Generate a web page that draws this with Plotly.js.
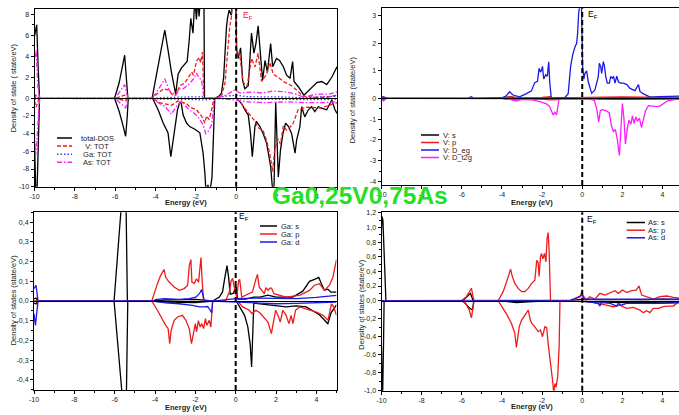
<!DOCTYPE html>
<html><head><meta charset="utf-8">
<script src="https://cdn.plot.ly/plotly-3.0.1.min.js"></script>
<style>html,body{margin:0;padding:0;background:#fff}#chart{width:679px;height:415px}</style>
</head><body><div id="chart"></div>
<script>
// ---------------- DATA ([energy eV, DOS states/eV]) ----------------
const EF = 0;
const energyTicks = [-10,-8,-6,-4,-2,0,2,4];
const energyTickText = ['-10','-8','-6','-4','-2','0','2','4'];

// Panel 1 : total DOS and atom totals
const totalUp = [[-10,5.9],[-9.95,6.5],[-9.89,7.0],[-9.82,3.0],[-9.75,0],[-6.03,0],[-5.8,1.5],[-5.53,4.1],[-5.45,2.0],[-5.37,0],[-4.17,0],[-4.0,1.8],[-3.8,3.8],[-3.54,6.5],[-3.38,4.6],[-3.21,2.5],[-3.0,0.4],[-2.88,2.3],[-2.71,2.9],[-2.55,3.3],[-2.43,3.5],[-2.33,5.5],[-2.25,7.6],[-2.14,6.2],[-2.05,9.5],[-1.97,7.5],[-1.9,9.5],[-1.84,7.8],[-1.75,10],[-1.64,10],[-1.6,10],[-1.57,0],[-1.06,0],[-0.85,0.2],[-0.73,0.5],[-0.62,2.0],[-0.56,4.2],[-0.48,6.8],[-0.43,7.6],[-0.35,8.4],[-0.24,7.9],[-0.15,10],[-0.02,10],[0.02,4.6],[0.1,3.8],[0.22,4.8],[0.32,1.7],[0.43,0.9],[0.6,1.2],[0.76,6.2],[0.88,4.3],[0.98,5.2],[1.09,6.9],[1.2,4.0],[1.31,1.7],[1.43,3.6],[1.55,2.5],[1.71,5.2],[1.81,3.0],[2.0,3.8],[2.15,3.6],[2.34,3.0],[2.5,2.2],[2.67,1.9],[2.8,3.5],[2.87,1.6],[3.08,1.1],[3.36,0.3],[3.66,0.9],[4.0,1.5],[4.24,1.6],[4.49,1.3],[4.74,2.0],[5.0,3.0]];
const totalDown = [[-10,-5.0],[-9.97,-8.0],[-9.93,-11],[-9.88,-11],[-9.82,-5],[-9.75,0],[-6.03,0],[-5.8,-1.5],[-5.62,-3.0],[-5.48,-4.3],[-5.4,-2.0],[-5.35,0],[-4.15,0],[-3.87,-1.3],[-3.62,-2.8],[-3.38,-3.9],[-3.24,-6.6],[-3.13,-4.7],[-3.0,-2.5],[-2.91,-1.3],[-2.79,-0.4],[-2.72,-0.6],[-2.63,-1.9],[-2.46,-2.8],[-2.3,-3.2],[-2.05,-3.5],[-1.8,-3.9],[-1.72,-5.1],[-1.64,-6.2],[-1.55,-8.5],[-1.5,-10.5],[-1.4,-9.8],[-1.3,-10.5],[-1.2,-9.0],[-1.12,-3.0],[-1.06,0],[0.02,0],[0.27,-0.6],[0.43,-1.3],[0.6,-1.9],[0.71,-4.0],[0.8,-6.6],[0.93,-3.2],[1.0,-2.6],[1.18,-3.2],[1.34,-4.0],[1.51,-5.1],[1.64,-7.0],[1.71,-7.7],[1.81,-10.5],[1.88,-9.8],[1.96,-0.4],[2.09,-8.9],[2.2,-5.8],[2.32,-4.0],[2.45,-2.8],[2.6,-3.2],[2.75,-4.0],[2.92,-6.2],[3.0,-4.7],[3.16,-3.2],[3.25,-0.95],[3.4,-2.1],[3.58,-1.3],[3.74,-0.95],[3.9,-1.5],[4.07,-0.95],[4.24,-1.1],[4.49,-1.3],[4.74,-0.2],[4.9,-1.3],[5.0,-1.7]];
const vTotUp = [[-10,0.1],[-9.95,0.3],[-9.85,0.1],[-9.75,0],[-6.0,0],[-5.53,0.3],[-5.37,0],[-4.17,0],[-3.87,0.5],[-3.6,0.9],[-3.38,0.8],[-3.13,0.3],[-3.0,0.3],[-2.79,1.2],[-2.6,1.4],[-2.46,1.7],[-2.3,2.2],[-2.21,2.5],[-2.12,2.2],[-1.97,3.5],[-1.84,3.9],[-1.76,3.4],[-1.67,4.4],[-1.6,0],[-1.06,0],[-0.73,0.2],[-0.55,1.5],[-0.4,5.5],[-0.32,6.8],[-0.24,7.7],[-0.15,10],[-0.02,10],[0.03,3.8],[0.15,4.5],[0.35,1.5],[0.55,1.2],[0.76,3.8],[0.93,3.0],[1.09,4.3],[1.26,1.6],[1.51,2.3],[1.67,3.4],[1.84,2.3],[2.08,2.0],[2.34,1.6],[2.75,1.2],[3.0,0.8],[3.33,0.2],[3.83,0.1],[4.5,0.1],[5.0,0.3]];
const vTotDown = [[-10,-0.3],[-9.92,-1.0],[-9.8,-0.2],[-9.75,0],[-6,0],[-5.5,-0.3],[-5.37,0],[-4.15,0],[-3.8,-0.5],[-3.2,-0.8],[-2.9,-0.3],[-2.46,-0.6],[-2.3,-1.0],[-1.97,-1.3],[-1.72,-2.0],[-1.55,-2.8],[-1.47,-2.0],[-1.34,-2.4],[-1.22,-1.3],[-1.1,0],[0.02,0],[0.2,-0.4],[0.35,-0.9],[0.6,-1.6],[0.93,-2.6],[1.09,-3.3],[1.34,-3.7],[1.51,-4.8],[1.67,-6.3],[1.81,-8.3],[1.9,-6.0],[2.0,-5.0],[2.09,-4.6],[2.2,-5.2],[2.34,-3.1],[2.5,-3.6],[2.8,-3.0],[3.07,-1.3],[3.5,-1.0],[4.2,-1.1],[4.6,-0.8],[5.0,-0.5]];
const gaTotUp = [[-10,0.05],[-9.9,0.15],[-9.75,0],[-6,0],[-5.5,0.05],[-5.37,0],[-4.17,0],[-3.5,0.08],[-2.5,0.1],[-1.7,0.15],[-1.6,0],[-1.06,0],[-0.5,0.2],[0,0.3],[0.5,0.15],[1.5,0.15],[2.5,0.12],[3.3,0.05],[4.2,0.15],[5,0.2]];
const gaTotDown = [[-10,-0.05],[-9.9,-0.15],[-9.75,0],[-6,0],[-5.5,-0.05],[-5.37,0],[-4.17,0],[-3.5,-0.08],[-2.5,-0.12],[-1.6,-0.18],[-1.1,-0.1],[-1.06,0],[0,-0.05],[1,-0.1],[2,-0.1],[3.5,-0.15],[4.5,-0.15],[5,-0.1]];
const asTotUp = [[-10,3.8],[-9.92,4.6],[-9.83,1.0],[-9.75,0],[-6.0,0],[-5.53,1.3],[-5.37,0],[-4.17,0],[-3.87,0.8],[-3.54,1.85],[-3.3,0.7],[-3.0,0.3],[-2.8,0.9],[-2.63,0.9],[-2.3,1.4],[-2.1,1.9],[-1.97,2.4],[-1.84,1.9],[-1.72,1.8],[-1.6,0],[-1.06,0],[-0.5,0.3],[-0.08,0.8],[0.2,0.5],[0.8,0.6],[1.3,0.5],[1.84,0.7],[2.5,0.6],[3.0,0.4],[3.33,0.1],[4.0,0.4],[4.6,0.4],[5.0,0.6]];
const asTotDown = [[-10,-4],[-9.95,-6.5],[-9.9,-5.5],[-9.8,-1.5],[-9.75,0],[-6.0,0],[-5.48,-1.1],[-5.37,0],[-4.17,0],[-3.87,-0.5],[-3.54,-0.9],[-3.21,-1.8],[-2.96,-0.9],[-2.71,-0.3],[-2.38,-1.2],[-2.13,-1.6],[-1.89,-2.1],[-1.64,-3.0],[-1.51,-4.0],[-1.4,-3.8],[-1.22,-3.0],[-1.12,-1.0],[-1.06,0],[0,-0.2],[0.5,-0.4],[1.5,-0.5],[2.5,-0.4],[3.5,-0.5],[4.2,-0.5],[5.0,-0.4]];

// Panel 2 : V orbitals
const vSUp = [[-10,0.02],[-9.9,0.04],[-9.75,0],[-4,0],[-3.6,0.05],[-3.2,0.01],[-1.5,0.01],[0,0.02],[2,0.02],[4,0.01],[4.85,0.01]];
const vSDown = [[-10,-0.02],[-9.9,-0.04],[-9.75,0],[-4,0],[-3.6,-0.04],[-3.0,-0.02],[-1.5,-0.01],[0,-0.01],[2,-0.02],[4.85,-0.01]];
const vPUp = [[-10,0],[-4,0],[-3.6,0.06],[-3.2,0.02],[-2,0.03],[-1.6,0.06],[-1.5,0.02],[-1.0,0],[-0.5,0.02],[0,0.03],[1,0.04],[2,0.05],[3,0.04],[4,0.03],[4.85,0.03]];
const vPDown = [[-10,0],[-4,0],[-3.6,-0.03],[-3,-0.02],[-2,-0.04],[-1.6,-0.08],[-1.2,-0.06],[-1.0,0],[0,-0.02],[1,-0.04],[2,-0.05],[3,-0.04],[4,-0.03],[4.85,-0.02]];
const vEgUp = [[-10,0.02],[-9.9,0.06],[-9.8,0.02],[-9.7,0],[-5.7,0],[-5.53,0.06],[-5.4,0],[-4.0,0.02],[-3.8,0.08],[-3.62,0.24],[-3.45,0.12],[-3.12,0.05],[-2.78,0.17],[-2.53,0.27],[-2.37,0.57],[-2.3,0.6],[-2.23,0.62],[-2.15,1.09],[-2.08,0.95],[-2.03,1.03],[-1.98,1.16],[-1.92,0.7],[-1.82,0.85],[-1.74,0.8],[-1.67,1.33],[-1.62,0.6],[-1.55,0.05],[-1.5,0],[-0.9,0],[-0.7,0.17],[-0.58,1.15],[-0.48,1.57],[-0.42,1.76],[-0.37,1.85],[-0.28,2.0],[-0.23,2.36],[-0.18,3.09],[-0.12,3.4],[-0.04,3.4],[0.02,1.15],[0.08,0.7],[0.13,0.9],[0.22,1.0],[0.3,0.6],[0.47,0.18],[0.63,0.3],[0.8,0.79],[0.85,1.27],[0.92,1.15],[0.97,0.9],[1.05,1.33],[1.1,1.2],[1.17,0.79],[1.25,0.55],[1.35,0.55],[1.42,0.79],[1.5,0.73],[1.56,0.8],[1.63,0.55],[1.72,0.8],[1.8,0.6],[1.9,0.55],[2.05,0.55],[2.22,0.5],[2.38,0.36],[2.63,0.28],[2.8,0.5],[2.88,0.24],[3.05,0.16],[3.38,0.04],[3.88,0.06],[4.4,0.08],[4.85,0.08]];
const vEgDown = [[-10,-0.02],[-9.7,0],[-4,0],[-3.5,-0.02],[-1.5,-0.01],[0,-0.01],[2,-0.02],[4,-0.02],[4.85,-0.02]];
const vT2gUp = [[-10,0.01],[-9.8,0],[4.85,0]];
const vT2gDown = [[-10,-0.05],[-9.9,-0.12],[-9.8,-0.02],[-9.7,0],[-4.0,0],[-3.6,-0.05],[-3.28,-0.13],[-3.0,-0.05],[-2.5,-0.08],[-2.12,-0.16],[-1.78,-0.27],[-1.62,-0.4],[-1.45,-0.8],[-1.37,-0.67],[-1.28,-0.8],[-1.2,-0.4],[-1.15,0],[0.2,0],[0.45,-0.05],[0.6,-0.1],[0.72,-0.5],[0.82,-1.15],[0.9,-0.6],[1.0,-0.55],[1.2,-0.6],[1.35,-0.7],[1.45,-1.3],[1.55,-1.6],[1.65,-1.5],[1.75,-2.0],[1.85,-2.75],[1.92,-1.8],[2.0,-0.25],[2.08,-1.0],[2.15,-2.2],[2.25,-1.4],[2.33,-1.05],[2.42,-1.25],[2.5,-0.85],[2.58,-1.2],[2.67,-0.9],[2.75,-1.1],[2.85,-0.95],[2.95,-1.4],[3.05,-1.0],[3.15,-0.6],[3.3,-0.35],[3.5,-0.38],[3.75,-0.4],[3.9,-0.35],[4.05,-0.25],[4.25,-0.12],[4.6,-0.06],[4.85,-0.05]];

// Panel 3 : Ga orbitals
const gaSUp = [[-10,0.01],[-9.9,0.015],[-9.8,0],[-6.03,0],[-5.47,0.75],[-5.37,0],[-4.1,0],[-3.5,0.005],[-2,0.008],[-1.14,0],[-0.81,0.02],[-0.65,0.046],[-0.56,0.105],[-0.43,0.18],[-0.35,0.12],[-0.27,0.035],[-0.1,0.04],[0.0,0.08],[0.05,0.06],[0.1,0.01],[0.5,0.01],[0.9,0.02],[1.2,0.02],[1.6,0.03],[2.0,0.02],[2.83,0.02],[3.33,0.05],[3.66,0.1],[3.91,0.11],[4.12,0.12],[4.24,0.09],[4.4,0.055],[4.57,0.06],[4.73,0.045],[5.0,0.045]];
const gaSDown = [[-10,-0.01],[-9.9,-0.015],[-9.8,0],[-6.03,0],[-5.45,-0.69],[-5.35,0],[-4.1,0],[-3.5,-0.005],[-2,-0.008],[-1.14,0],[0.03,0],[0.2,-0.03],[0.44,-0.073],[0.6,-0.13],[0.72,-0.22],[0.79,-0.335],[0.85,-0.1],[0.9,-0.01],[1.2,-0.015],[2.0,-0.025],[2.5,-0.03],[3.0,-0.025],[3.5,-0.03],[4.15,-0.07],[4.57,-0.115],[4.73,-0.06],[5.0,-0.02]];
const gaPUp = [[-10,0],[-4.16,0],[-3.88,0.088],[-3.72,0.13],[-3.55,0.16],[-3.47,0.12],[-3.3,0.096],[-3.05,0.071],[-2.8,0.054],[-2.55,0.063],[-2.38,0.08],[-2.3,0.18],[-2.22,0.21],[-2.17,0.096],[-2.05,0.09],[-1.94,0.113],[-1.84,0.096],[-1.76,0.2],[-1.72,0.22],[-1.66,0.1],[-1.59,0],[-0.5,0],[-0.3,0.05],[-0.23,0.1],[-0.15,0.115],[-0.07,0.07],[0.05,0.02],[0.15,0.104],[0.2,0.11],[0.3,0.02],[0.5,0.03],[0.83,0.045],[1.0,0.11],[1.08,0.135],[1.17,0.07],[1.42,0.037],[1.5,0.068],[1.6,0.055],[1.7,0.065],[1.78,0.065],[1.9,0.037],[2.5,0.02],[3.2,0.03],[3.66,0.054],[3.91,0.08],[4.15,0.088],[4.4,0.054],[4.65,0.08],[4.82,0.12],[5.0,0.21]];
const gaPDown = [[-10,0],[-4.16,0],[-3.88,-0.047],[-3.63,-0.098],[-3.47,-0.124],[-3.35,-0.14],[-3.27,-0.217],[-3.2,-0.149],[-3.05,-0.098],[-2.88,-0.081],[-2.64,-0.073],[-2.47,-0.098],[-2.3,-0.14],[-2.19,-0.217],[-2.1,-0.157],[-2.0,-0.115],[-1.94,-0.157],[-1.85,-0.1],[-1.76,-0.132],[-1.68,-0.115],[-1.59,-0.14],[-1.5,-0.09],[-1.43,-0.124],[-1.31,-0.098],[-1.23,-0.132],[-1.14,0],[0.01,0],[0.18,-0.01],[0.35,-0.03],[0.68,-0.047],[0.81,-0.064],[1.0,-0.047],[1.2,-0.06],[1.43,-0.09],[1.6,-0.107],[1.77,-0.166],[1.85,-0.115],[1.98,-0.047],[2.1,-0.073],[2.21,-0.107],[2.34,-0.047],[2.5,-0.073],[2.64,-0.115],[2.75,-0.073],[2.84,-0.115],[2.97,-0.047],[3.17,-0.03],[3.42,-0.039],[3.67,-0.047],[4.0,-0.056],[4.33,-0.073],[4.58,-0.098],[4.75,-0.014],[4.86,-0.03],[5.0,-0.073]];
const gaDUp = [[-10,0.063],[-9.9,0.08],[-9.8,0],[-4.1,0],[-3.97,0.007],[-3.55,0.012],[-2.8,0.008],[-2.3,0.012],[-1.97,0.02],[-1.8,0.037],[-1.69,0.058],[-1.6,0.02],[-1.55,0],[-1.0,0],[-0.5,0.005],[0,0.012],[1,0.015],[2,0.012],[3,0.012],[4,0.018],[5,0.029]];
const gaDDown = [[-10,-0.065],[-9.93,-0.124],[-9.8,0],[-4.1,0],[-3.47,-0.01],[-2.8,-0.014],[-2.14,-0.022],[-1.8,-0.03],[-1.55,-0.03],[-1.39,-0.028],[-1.26,-0.047],[-1.19,-0.061],[-1.14,0],[0,-0.005],[1,-0.012],[2,-0.014],[3,-0.012],[4,-0.01],[5,-0.005]];

// Panel 4 : As orbitals
const asSUp = [[-10,0.97],[-9.98,1.15],[-9.93,1.1],[-9.85,0.46],[-9.78,0],[-5.95,0],[-5.68,0.077],[-5.57,0.1],[-5.43,0],[-4.2,0],[-3.5,0.01],[-2.5,0.008],[-1.58,0],[-0.5,0.005],[0,0.02],[1,0.012],[2,0.015],[3,0.012],[4,0.02],[4.85,0.015]];
const asSDown = [[-10,-0.5],[-9.96,-1.25],[-9.9,-0.5],[-9.87,0],[-5.95,0],[-5.6,-0.085],[-5.47,-0.104],[-5.4,0],[-4.2,0],[-3.28,-0.02],[-2.5,-0.01],[-1.1,0],[0,-0.01],[1,-0.015],[2,-0.02],[3,-0.015],[4,-0.025],[4.85,-0.02]];
const asPUp = [[-10,0],[-6.02,0],[-5.77,0.055],[-5.6,0.145],[-5.52,0.17],[-5.43,0.04],[-5.39,0],[-4.19,0],[-3.94,0.123],[-3.74,0.28],[-3.64,0.37],[-3.57,0.43],[-3.49,0.336],[-3.36,0.236],[-3.19,0.168],[-3.02,0.123],[-2.86,0.123],[-2.69,0.168],[-2.52,0.236],[-2.36,0.28],[-2.27,0.55],[-2.2,0.52],[-2.15,0.33],[-2.08,0.6],[-2.03,0.645],[-1.96,0.57],[-1.88,0.645],[-1.81,0.53],[-1.75,0.85],[-1.7,0.93],[-1.65,0.69],[-1.58,0],[-0.61,0],[-0.28,0.03],[-0.11,0.055],[-0.03,0.12],[0.05,0.064],[0.21,0.01],[0.38,0.055],[0.63,0.02],[0.88,0.1],[1.13,0.077],[1.38,0.11],[1.63,0.136],[1.8,0.1],[2.01,0.145],[2.21,0.11],[2.46,0.136],[2.68,0.145],[2.83,0.2],[2.96,0.077],[3.21,0.055],[3.54,0.023],[3.87,0.055],[4.21,0.064],[4.54,0.045],[4.85,0.032]];
const asPDown = [[-10,0],[-6.02,0],[-5.8,-0.03],[-5.63,-0.104],[-5.52,-0.19],[-5.45,-0.1],[-5.39,0],[-4.19,0],[-3.94,-0.085],[-3.74,-0.16],[-3.53,-0.25],[-3.36,-0.36],[-3.28,-0.52],[-3.23,-0.42],[-3.14,-0.29],[-3.02,-0.215],[-2.86,-0.16],[-2.69,-0.104],[-2.6,-0.2],[-2.52,-0.25],[-2.36,-0.29],[-2.19,-0.344],[-2.08,-0.326],[-1.98,-0.4],[-1.86,-0.29],[-1.77,-0.3],[-1.7,-0.474],[-1.61,-0.62],[-1.53,-0.76],[-1.47,-0.9],[-1.42,-1.03],[-1.36,-0.92],[-1.3,-0.96],[-1.22,-0.84],[-1.15,-0.5],[-1.11,0],[0.21,0],[0.71,-0.03],[1.21,-0.048],[1.54,-0.067],[1.87,-0.05],[2.21,-0.085],[2.54,-0.074],[2.87,-0.104],[3.04,-0.133],[3.21,-0.111],[3.37,-0.133],[3.54,-0.085],[3.79,-0.085],[4.04,-0.067],[4.29,-0.06],[4.54,-0.059],[4.7,-0.03],[4.85,-0.01]];
const asDUp = [[-10,0],[-4.2,0],[-3,0.008],[-1.6,0.01],[-0.6,0.005],[-0.45,0.02],[-0.28,0.045],[-0.11,0.064],[0.0,0.077],[0.1,0.02],[0.5,0.02],[1,0.015],[2,0.02],[3,0.015],[4,0.025],[4.85,0.02]];
const asDDown = [[-10,0],[-4.2,0],[-3,-0.005],[-1.6,-0.005],[0,-0.005],[0.6,-0.02],[0.8,-0.03],[0.88,-0.06],[0.95,-0.02],[1.4,-0.03],[1.71,-0.06],[1.8,-0.03],[1.95,-0.05],[2.2,-0.03],[3.0,-0.03],[4.0,-0.03],[4.85,-0.02]];

// tick labels
const p1PosTicks=[0,2,4,6,8], p1PosText=['0','2','4','6','8'];
const p1NegTicks=[-10,-8,-6,-4,-2], p1NegText=['-10','-8','-6','-4','-2'];
const p2PosTicks=[0,1,2,3], p2PosText=['0','1','2','3'];
const p2NegTicks=[-4,-3,-2,-1], p2NegText=['-4','-3','-2','-1'];
const p3PosTicks=[0,0.1,0.2,0.3,0.4], p3PosText=['0,0','0,1','0,2','0,3','0,4'];
const p3NegTicks=[-0.4,-0.3,-0.2,-0.1], p3NegText=['-0,4','-0,3','-0,2','-0,1'];
const p4PosTicks=[0,0.2,0.4,0.6,0.8,1.0,1.2], p4PosText=['0,0','0,2','0,4','0,6','0,8','1,0','1,2'];
const p4NegTicks=[-1.0,-0.8,-0.6,-0.4,-0.2], p4NegText=['-1,0','-0,8','-0,6','-0,4','-0,2'];

// ---------------- LAYOUT / STYLE ----------------
const W=679,H=415;
const fx=p=>p/W, fy=p=>1-p/H;
const FONT='Arial, "Liberation Sans", sans-serif';
const BLK='#000000', RED='#ee1c1c', BLU='#1a1ae6', MAG='#ff1aff';

const panels=[
 {xL:34.5,xR:337,yTop:9,yZero:98.3,yBot:186.7,xRange:[-10,5],pos:[0,8.5],neg:[-10,0],
  pt:[p1PosTicks,p1PosText],nt:[p1NegTicks,p1NegText],ym:1,
  series:[
   {name:'total-DOS',up:totalUp,down:totalDown,color:BLK,dash:'solid'},
   {name:'\u00a0\u00a0V: TOT',up:vTotUp,down:vTotDown,color:RED,dash:'4px,2px'},
   {name:'\u00a0Ga: TOT',up:gaTotUp,down:gaTotDown,color:'#3a3aff',dash:'1.5px,2px'},
   {name:'\u00a0As: TOT',up:asTotUp,down:asTotDown,color:MAG,dash:'5px,2px,1.5px,2px'}],
  leg:{x0:57,x1:72,tx:78.5,rows:[138,146,154.2,162.3]},
  ytitle:'Density of state ( state/eV)',ytx:13.3,yty:88,
  ef:{x:240.5,y:15,color:RED}, xt:{x:186,y:202.5}},
 {xL:381.5,xR:679,yTop:8.3,yZero:98.3,yBot:185,xRange:[-10,4.82],pos:[0,3.27],neg:[-4.17,0],
  pt:[p2PosTicks,p2PosText],nt:[p2NegTicks,p2NegText],ym:0.5,
  series:[
   {name:'V: s',up:vSUp,down:vSDown,color:BLK,dash:'solid'},
   {name:'V: p',up:vPUp,down:vPDown,color:RED,dash:'solid'},
   {name:'V: D_eg',up:vEgUp,down:vEgDown,color:BLU,dash:'solid'},
   {name:'V: D_t2g',up:vT2gUp,down:vT2gDown,color:MAG,dash:'solid'}],
  leg:{x0:421,x1:439,tx:440.5,rows:[135,142.5,150,157.5]},
  ytitle:'Density of state (state/eV)',ytx:352.3,yty:100,
  ef:{x:585.5,y:14.5,color:BLK}, xt:{x:532,y:202.5}},
 {xL:34,xR:336.5,yTop:212.3,yZero:301,yBot:390,xRange:[-10,5],pos:[0,0.45],neg:[-0.452,0],
  pt:[p3PosTicks,p3PosText],nt:[p3NegTicks,p3NegText],ym:0.05,
  series:[
   {name:'Ga: s',up:gaSUp,down:gaSDown,color:BLK,dash:'solid'},
   {name:'Ga: p',up:gaPUp,down:gaPDown,color:RED,dash:'solid'},
   {name:'Ga: d',up:gaDUp,down:gaDDown,color:BLU,dash:'solid'}],
  leg:{x0:260,x1:277,tx:278.5,rows:[226,234,242]},
  ytitle:'Density of states (state/eV)',ytx:13.3,yty:300,
  ef:{x:237.5,y:216.5,color:BLK}, xt:{x:186,y:407}},
 {xL:381.5,xR:679,yTop:212.3,yZero:300.7,yBot:390.7,xRange:[-10,4.82],pos:[0,1.206],neg:[-1.0,0],
  pt:[p4PosTicks,p4PosText],nt:[p4NegTicks,p4NegText],ym:0.1,
  series:[
   {name:'As: s',up:asSUp,down:asSDown,color:BLK,dash:'solid'},
   {name:'As: p',up:asPUp,down:asPDown,color:RED,dash:'solid'},
   {name:'As: d',up:asDUp,down:asDDown,color:BLU,dash:'solid'}],
  leg:{x0:626.7,x1:645,tx:646,rows:[222.5,230.2,237.8]},
  ytitle:'Density of states (state/eV)',ytx:360.7,yty:304,
  ef:{x:584.5,y:219.5,color:BLK}, xt:{x:532,y:406.7}}
];

const id=n=>n===1?'':String(n);
const traces=[], shapes=[], annotations=[];
const layout={width:W,height:H,margin:{l:0,r:0,t:0,b:0},paper_bgcolor:'#fff',plot_bgcolor:'#fff',
  showlegend:false,hovermode:false,font:{family:FONT,size:7,color:'#222'}};
const tickFont={family:FONT,size:7,color:'#222'};

panels.forEach((p,i)=>{
  const xa=2*i+1, xb=2*i+2, yp=2*i+1, yn=2*i+2;
  const xdom=[fx(p.xL),fx(p.xR)];
  layout['xaxis'+id(xa)]={domain:xdom,range:p.xRange,anchor:'y'+id(yn),showline:true,linecolor:BLK,linewidth:1,
    ticks:'outside',ticklen:3,tickwidth:1,tickcolor:BLK,tickmode:'array',tickvals:energyTicks,ticktext:energyTickText,
    tickfont:tickFont,minor:{ticks:'outside',ticklen:2,tickcolor:BLK,tickmode:'linear',tick0:0,dtick:1,showgrid:false},
    showgrid:false,zeroline:false,fixedrange:true};
  layout['xaxis'+id(xb)]={domain:xdom,range:p.xRange,anchor:'y'+id(yp),showline:true,mirror:true,linecolor:BLK,linewidth:1,
    ticks:'',showticklabels:false,showgrid:false,zeroline:false,fixedrange:true};
  const yCommon={showline:true,mirror:true,linecolor:BLK,linewidth:1,ticks:'outside',ticklen:3,tickwidth:1,tickcolor:BLK,
    tickmode:'array',tickfont:tickFont,minor:{ticks:'outside',ticklen:2,tickcolor:BLK,tickmode:'linear',tick0:0,dtick:p.ym,showgrid:false},
    showgrid:false,zeroline:false,fixedrange:true};
  layout['yaxis'+id(yp)]=Object.assign({},yCommon,{domain:[fy(p.yZero),fy(p.yTop)],range:p.pos,anchor:'x'+id(xa),tickvals:p.pt[0],ticktext:p.pt[1]});
  layout['yaxis'+id(yn)]=Object.assign({},yCommon,{domain:[fy(p.yBot),fy(p.yZero)],range:p.neg,anchor:'x'+id(xa),tickvals:p.nt[0],ticktext:p.nt[1]});

  p.series.forEach(s=>{
    const ln={color:s.color,width:1.3,dash:s.dash};
    traces.push({type:'scatter',mode:'lines',x:s.up.map(d=>d[0]),y:s.up.map(d=>d[1]),xaxis:'x'+id(xb),yaxis:'y'+id(yp),line:ln,name:s.name});
    traces.push({type:'scatter',mode:'lines',x:s.down.map(d=>d[0]),y:s.down.map(d=>d[1]),xaxis:'x'+id(xa),yaxis:'y'+id(yn),line:ln,name:s.name});
  });
  // Fermi level
  shapes.push({type:'line',xref:'x'+id(xa),x0:EF,x1:EF,yref:'paper',y0:fy(p.yBot),y1:fy(p.yTop),
    line:{color:BLK,width:2,dash:'5px,3px'},layer:'above'});
  annotations.push({xref:'paper',yref:'paper',x:fx(p.ef.x),y:fy(p.ef.y),xanchor:'left',yanchor:'middle',showarrow:false,
    text:'E<sub>F</sub>',font:{family:FONT,size:8.5,color:p.ef.color}});
  // legend
  p.series.forEach((s,k)=>{
    const yy=fy(p.leg.rows[k]);
    shapes.push({type:'line',xref:'paper',yref:'paper',x0:fx(p.leg.x0),x1:fx(p.leg.x1),y0:yy,y1:yy,
      line:{color:s.color,width:1.5,dash:s.dash}});
    annotations.push({xref:'paper',yref:'paper',x:fx(p.leg.tx),y:yy,xanchor:'left',yanchor:'middle',showarrow:false,
      text:s.name,font:{family:FONT,size:7.5,color:'#222'}});
  });
  // axis titles
  annotations.push({xref:'paper',yref:'paper',x:fx(p.ytx),y:fy(p.yty),xanchor:'center',yanchor:'middle',textangle:-90,showarrow:false,
    text:p.ytitle,font:{family:FONT,size:7.5,color:'#222'}});
  annotations.push({xref:'paper',yref:'paper',x:fx(p.xt.x),y:fy(p.xt.y),xanchor:'center',yanchor:'middle',showarrow:false,
    text:'<b>Energy (eV)</b>',font:{family:FONT,size:7.5,color:'#222'}});
});

annotations.push({xref:'paper',yref:'paper',x:fx(360),y:fy(195),xanchor:'center',yanchor:'middle',showarrow:false,
  text:'<b>Ga0,25V0,75As</b>',font:{family:FONT,size:24.5,color:'#22e022'}});

layout.shapes=shapes; layout.annotations=annotations;
Plotly.newPlot('chart',traces,layout,{displayModeBar:false,staticPlot:true});
</script></body></html>
